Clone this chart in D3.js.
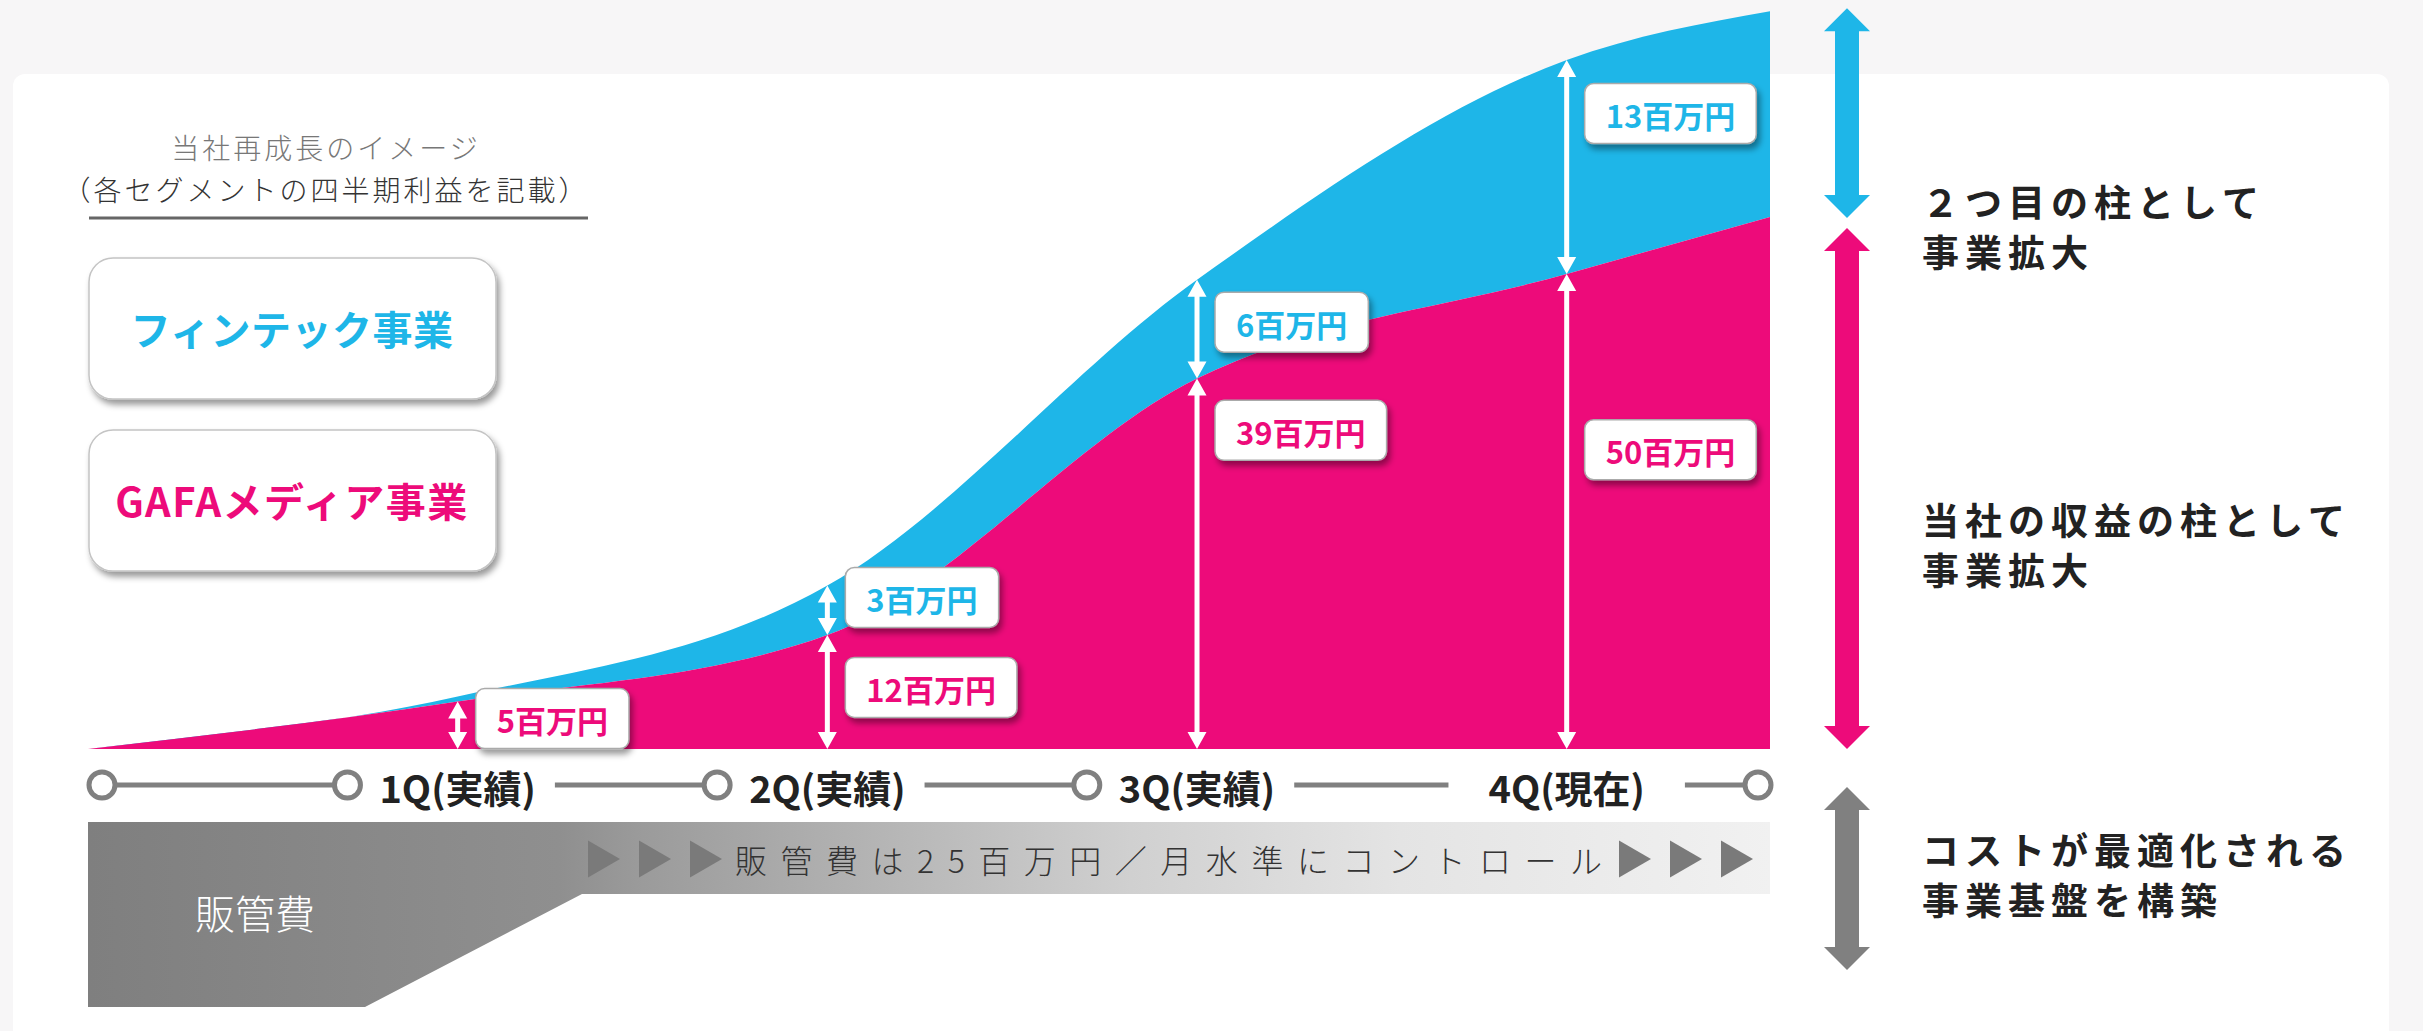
<!DOCTYPE html>
<html>
<head>
<meta charset="utf-8">
<script src="https://cdn.jsdelivr.net/npm/d3@7"></script>
<style>
    body { margin: 0; background: #f7f6f7; }
    svg { display: block; font-family: "Noto Sans CJK JP", "Noto Sans", sans-serif; }
</style>
</head>
<body>
<svg id="chart"></svg>
<script>
// Quarterly profit per segment (百万円)
const quarterLabels = ["1Q(実績)", "2Q(実績)", "3Q(実績)", "4Q(現在)"];
const curveQuarter = [0, 1, 2, 3, 4, 4.55];   // start, 1Q..4Q, right edge
const gafaProfit = [0, 5, 12, 39, 50, 56];
const fintechProfit = [0, 0.3, 3, 6, 13, 12.5];
const segmentNames = ["フィンテック事業", "GAFAメディア事業"];
const sideNotes = [
    ["２つ目の柱として", "事業拡大"],
    ["当社の収益の柱として", "事業拡大"],
    ["コストが最適化される", "事業基盤を構築"]
];
const costLabel = "販管費";
const costNote = "販管費は25百万円／月水準にコントロール";
const titleLines = ["当社再成長のイメージ", "（各セグメントの四半期利益を記載）"];

const width = 2423, height = 1031;
const pink = "#ed0b7a", blue = "#1eb6e8", gray = "#808080";
const base = 749, timelineY = 785;

const svg = d3.select("#chart").attr("width", width).attr("height", height);

// filters / gradients
const defs = svg.append("defs");
const shadow = defs.append("filter").attr("id", "shadow")
    .attr("x", "-20%").attr("y", "-20%").attr("width", "150%").attr("height", "160%");
shadow.append("feDropShadow").attr("dx", 3).attr("dy", 5).attr("stdDeviation", 3)
    .attr("flood-color", "#000").attr("flood-opacity", 0.4);
const grad = defs.append("linearGradient").attr("id", "costGrad")
    .attr("gradientUnits", "userSpaceOnUse").attr("x1", 88).attr("x2", 1770).attr("y1", 0).attr("y2", 0);
[[0, "#7f7f7f"], [0.28, "#8f8f8f"], [0.33, "#9b9b9b"], [0.62, "#d0d0d0"], [0.78, "#e4e4e4"], [1, "#f1f1f1"]]
    .forEach(s => grad.append("stop").attr("offset", s[0]).attr("stop-color", s[1]));

// background panel
svg.append("rect").attr("width", width).attr("height", height).attr("fill", "#f7f6f7");
svg.append("rect").attr("x", 13).attr("y", 74).attr("width", 2376).attr("height", 1000)
    .attr("rx", 12).attr("fill", "#fff");

// Scales
const x = d3.scaleLinear().domain([0, 4.55]).range([88, 1770]);
const yG = d3.scaleLinear().domain([0, 60]).range([base, base - 570]);
const band = d3.scaleLinear().domain([0, 13]).range([0, 214]);

const pts = curveQuarter.map((q, i) => ({ q, g: gafaProfit[i], f: fintechProfit[i] }));
const topOf = d => yG(d.g) - band(d.f);

svg.append("path").datum(pts)
    .attr("fill", blue)
    .attr("d", d3.area().curve(d3.curveMonotoneX).x(d => x(d.q)).y0(d => yG(d.g)).y1(topOf));
svg.append("path").datum(pts)
    .attr("fill", pink)
    .attr("d", d3.area().curve(d3.curveMonotoneX).x(d => x(d.q)).y0(base).y1(d => yG(d.g)));

function dblArrow(cx, y1, y2, sw, hw, hl) {
    return `M${cx},${y1}L${cx + hw / 2},${y1 + hl}L${cx + sw / 2},${y1 + hl}L${cx + sw / 2},${y2 - hl}` +
        `L${cx + hw / 2},${y2 - hl}L${cx},${y2}L${cx - hw / 2},${y2 - hl}L${cx - sw / 2},${y2 - hl}` +
        `L${cx - sw / 2},${y1 + hl}L${cx - hw / 2},${y1 + hl}Z`;
}

// value labels
const gafaFrac = [0.36, 0.46, 0.14, 0.37];
const fintechFrac = [0.24, 0.43, 0.25];
const labels = [];
pts.slice(1, 5).forEach((d, i) => {
    labels.push({ q: d.q, v: d.g, color: pink, top: yG(d.g), bot: base, frac: gafaFrac[i] });
});
pts.slice(2, 5).forEach((d, i) => {
    labels.push({ q: d.q, v: d.f, color: blue, top: topOf(d), bot: yG(d.g), frac: fintechFrac[i] });
});

svg.append("g").selectAll("path").data(labels).join("path")
    .attr("fill", "#fff")
    .attr("d", d => dblArrow(x(d.q), d.top, d.bot, 5, 19, 17));

const boxes = svg.append("g").selectAll("g").data(labels).join("g");
boxes.each(function (d) {
    const g = d3.select(this);
    const rect = g.append("rect");
    const t = g.append("text")
        .attr("font-size", 31).attr("font-weight", 700).attr("fill", d.color)
        .attr("text-anchor", "middle").attr("dominant-baseline", "central")
        .text(d.v + "百万円");
    const tw = t.node().getComputedTextLength();
    const bw = tw + 42, bh = 60;
    const bx = x(d.q) + 18, cy = d.top + d.frac * (d.bot - d.top);
    rect.attr("x", bx).attr("y", cy - bh / 2).attr("width", bw).attr("height", bh).attr("rx", 9)
        .attr("fill", "#fff").attr("stroke", "#aaa").attr("stroke-width", 1.5)
        .attr("filter", "url(#shadow)");
    t.attr("x", bx + bw / 2).attr("y", cy + 1);
});

// timeline
const tl = svg.append("g");
const startC = x(0) + 14, endC = x(4.55) - 12;
tl.append("line").attr("x1", startC).attr("x2", endC).attr("y1", timelineY).attr("y2", timelineY)
    .attr("stroke", gray).attr("stroke-width", 5);
const circles = [startC, endC];
quarterLabels.forEach((lab, i) => {
    const cx = x(i + 1);
    const t = tl.append("text").attr("x", cx).attr("y", timelineY + 1)
        .attr("font-size", 38).attr("font-weight", 700).attr("fill", "#222")
        .attr("text-anchor", "middle").attr("dominant-baseline", "central").text(lab);
    const w = t.node().getComputedTextLength();
    const pad = i < 3 ? 19 : 40;
    tl.insert("rect", "text").attr("x", cx - w / 2 - pad).attr("y", timelineY - 10)
        .attr("width", w + 2 * pad).attr("height", 20).attr("fill", "#fff");
    if (i < 3) circles.push(cx - w / 2 - 19 - 13);
});
tl.selectAll("circle").data(circles).join("circle")
    .attr("cx", d => d).attr("cy", timelineY).attr("r", 13)
    .attr("fill", "#fff").attr("stroke", gray).attr("stroke-width", 5);

// cost block
const cTop = 822, cBand = 894, cBot = 1007, cStep = 582, cFoot = 365;
svg.append("path").attr("fill", "url(#costGrad)")
    .attr("d", `M${x(0)},${cTop}L${x(4.55)},${cTop}L${x(4.55)},${cBand}L${cStep},${cBand}L${cFoot},${cBot}L${x(0)},${cBot}Z`);
svg.append("text").attr("x", 255).attr("y", 912)
    .attr("font-size", 40).attr("font-weight", 300).attr("fill", "#fff")
    .attr("text-anchor", "middle").attr("dominant-baseline", "central").text(costLabel);

const triStarts = d3.range(3).map(k => cStep + 6 + k * 51)
    .concat(d3.range(3).map(k => x(4.55) - 17 - 32 - (2 - k) * 51));
svg.append("g").selectAll("path").data(triStarts).join("path")
    .attr("fill", "#7a7a7a")
    .attr("d", d => `M${d},${859 - 18.5}L${d + 32},859L${d},${859 + 18.5}Z`);
svg.append("text").attr("x", cStep + 6 + 2 * 51 + 32 + 13).attr("y", 859)
    .attr("font-size", 32).attr("font-weight", 300).attr("fill", "#333")
    .attr("dominant-baseline", "central")
    .attr("textLength", (x(4.55) - 17 - 32 - 2 * 51 - 17) - (cStep + 6 + 2 * 51 + 32 + 13))
    .attr("lengthAdjust", "spacing")
    .text(costNote);

// title
svg.append("text").attr("x", 326).attr("y", 147).attr("font-size", 28).attr("font-weight", 300)
    .attr("letter-spacing", 3).attr("fill", "#777")
    .attr("text-anchor", "middle").attr("dominant-baseline", "central").text(titleLines[0]);
svg.append("text").attr("x", 326).attr("y", 189).attr("font-size", 28).attr("font-weight", 300)
    .attr("letter-spacing", 3).attr("fill", "#333")
    .attr("text-anchor", "middle").attr("dominant-baseline", "central").text(titleLines[1]);
svg.append("line").attr("x1", 89).attr("x2", 588).attr("y1", 218).attr("y2", 218)
    .attr("stroke", "#666").attr("stroke-width", 3);

// legend boxes
const legend = svg.append("g").selectAll("g").data(segmentNames).join("g")
    .attr("transform", (d, i) => `translate(89,${258 + i * 172})`);
legend.append("rect").attr("width", 407).attr("height", 141).attr("rx", 24)
    .attr("fill", "#fff").attr("stroke", "#c4c4c4").attr("stroke-width", 1.5).attr("filter", "url(#shadow)");
legend.append("text").attr("x", 203).attr("y", 70)
    .attr("font-size", 40).attr("font-weight", 700).attr("fill", (d, i) => i === 0 ? blue : pink)
    .attr("letter-spacing", (d, i) => i === 0 ? 0.5 : 1.5)
    .attr("text-anchor", "middle").attr("dominant-baseline", "central").text(d => d);

// right side arrows
const last = pts[pts.length - 1];
const ax = 1847;
const rightArrows = [
    { y1: topOf(last) - 3, y2: yG(last.g) + 1, color: blue },
    { y1: yG(last.g) + 11, y2: base, color: pink },
    { y1: timelineY + 2, y2: 970, color: gray }
];
svg.append("g").selectAll("path").data(rightArrows).join("path")
    .attr("fill", d => d.color)
    .attr("d", d => dblArrow(ax, d.y1, d.y2, 24, 46, 23));

const noteY = [[201, 251], [519, 569], [849, 899]];
sideNotes.forEach((lines, i) => {
    lines.forEach((s, j) => {
        svg.append("text").attr("x", 1922).attr("y", noteY[i][j])
            .attr("font-size", 37).attr("font-weight", 700).attr("fill", "#222")
            .attr("letter-spacing", 6).attr("dominant-baseline", "central").text(s);
    });
});
</script>
</body>
</html>
